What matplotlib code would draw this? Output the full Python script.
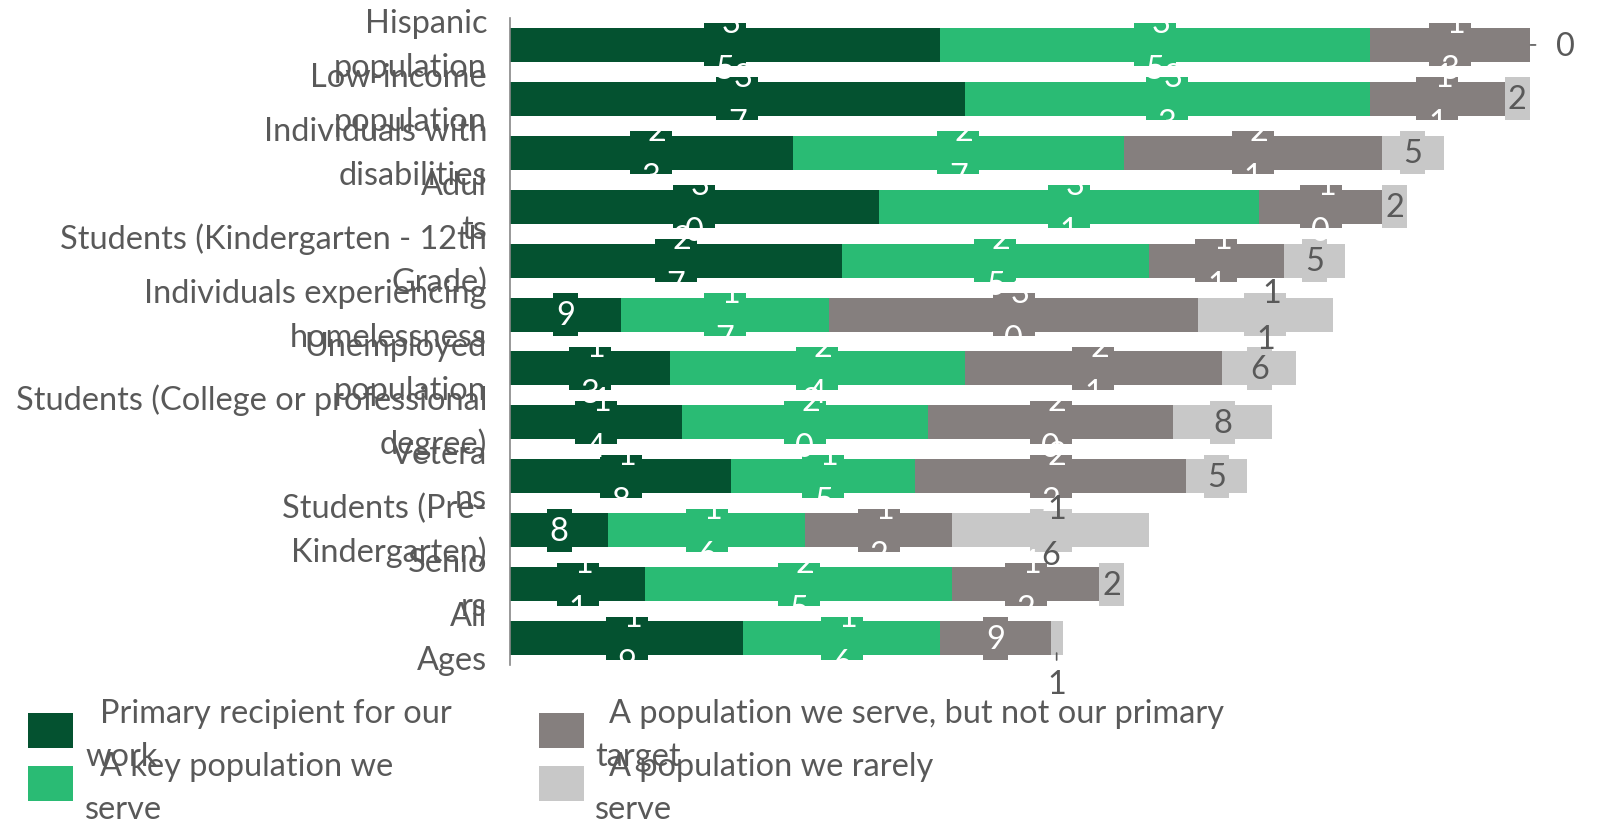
"""Stacked horizontal bars: how often each population is served."""
import matplotlib
matplotlib.use("Agg")
import matplotlib.pyplot as plt
import numpy as np
from matplotlib.patches import Rectangle
from matplotlib.transforms import ScaledTranslation

plt.rcParams["font.family"] = ["Lato", "DejaVu Sans"]

# --- data ---
category_labels = [
    "Hispanic\npopulation",
    "Low-income\npopulation",
    "Individuals with\ndisabilities",
    "Adul\nts",
    "Students (Kindergarten - 12th\nGrade)",
    "Individuals experiencing\nhomelessness",
    "Unemployed\npopulation",
    "Students (College or professional\ndegree)",
    "Vetera\nns",
    "Students (Pre-\nKindergarten)",
    "Senio\nrs",
    "All\nAges",
]
primary = [35, 37, 23, 30, 27, 9, 13, 14, 18, 8, 11, 19]
key_pop = [35, 33, 27, 31, 25, 17, 24, 20, 15, 16, 25, 16]
not_primary = [13, 11, 21, 10, 11, 30, 21, 20, 22, 12, 12, 9]
rarely = [0, 2, 5, 2, 5, 11, 6, 8, 5, 16, 2, 1]

series_names = [
    "Primary recipient for our\nwork",
    "A key population we\nserve",
    "A population we serve, but not our primary\ntarget",
    "A population we rarely\nserve",
]
series_colors = ["#045230", "#2abb74", "#857f7e", "#c8c8c8"]
label_colors = ["white", "white", "white", "#595959"]
text_gray = "#595959"

W, H = 1601, 821
FS = 23.4


def pt(p):
    # pixels -> points at dpi 100
    return p * 0.72


fig = plt.figure(figsize=(W / 100, H / 100), dpi=100)
ax = fig.add_axes([510 / W, 1 - 665 / H, 1081 / W, 647 / H])

y = np.arange(len(category_labels))
left = np.zeros(len(category_labels))
all_series = [primary, key_pop, not_primary, rarely]


def put(txt, x, yi, dx, dy, color):
    ax.annotate(txt, (x, yi), xytext=(pt(dx), pt(dy)), textcoords="offset points",
                ha="center", va="baseline", color=color, fontsize=FS, zorder=4)


for vals, color, tcol in zip(all_series, series_colors, label_colors):
    vals = np.array(vals, dtype=float)
    ax.barh(y, vals, left=left, height=0.63, color=color, zorder=2)
    for yi, (l, v) in enumerate(zip(left, vals)):
        cx = l + v / 2
        if v == 0:
            # no room: label sits right of the bar end
            put("0", l, yi, 36, -11, text_gray)
            ax.annotate("", (l, yi), xytext=(pt(6), 0), textcoords="offset points",
                        arrowprops=dict(arrowstyle="-", color=text_gray, lw=1.2,
                                        shrinkA=0, shrinkB=pt(1)))
            continue
        if v < 2:
            # too thin: label pushed below the bar
            put(str(int(v)), cx, yi, 0, -55.5, text_gray)
            ax.annotate("", (cx, yi), xytext=(0, -pt(22)), textcoords="offset points",
                        arrowprops=dict(arrowstyle="-", color=text_gray, lw=1.2,
                                        shrinkA=0, shrinkB=pt(15)))
            continue
        digits = str(int(v))
        bw = 0.42 if len(digits) > 1 else 0.25
        trans = fig.dpi_scale_trans + ScaledTranslation(cx, yi, ax.transData)
        ax.add_patch(Rectangle((-bw / 2, -0.215), bw, 0.43, transform=trans,
                               facecolor=color, edgecolor="none", zorder=3))
        if len(digits) > 1:
            put(digits[0], cx, yi, 6, 11.5, tcol)
            put(digits[1], cx, yi, 0, -34.5, tcol)
        else:
            put(digits, cx, yi, 0, -10.5, tcol)
    left += vals

ax.set_xlim(0, 88)
ax.set_ylim(len(category_labels) - 0.5, -0.5)
ax.set_xticks([])
ax.set_yticks([])

# category labels, one text per wrapped line
for i, lab in enumerate(category_labels):
    first, second = lab.split("\n")
    for line, dy in [(first, 12), (second, -32)]:
        ax.annotate(line, (0, i), xycoords=("axes fraction", "data"),
                    xytext=(pt(-23), pt(dy)), textcoords="offset points",
                    ha="right", va="baseline", color=text_gray, fontsize=FS)

for side in ["top", "right", "bottom"]:
    ax.spines[side].set_visible(False)
ax.spines["left"].set_color("#888888")
ax.spines["left"].set_linewidth(1.2)

# legend, drawn by hand in figure pixels: square x, square top, line1 x, line2 x, baselines
legend_pos = [
    (28, 713, 100, 85, 723, 766),
    (28, 766, 100, 85, 776, 819),
    (539, 713, 609, 595, 723, 766),
    (539, 766, 609, 595, 776, 819),
]
for (sx, sy, x1, x2, b1, b2), name, color in zip(legend_pos, series_names, series_colors):
    fig.add_artist(Rectangle((sx / W, 1 - (sy + 35) / H), 45 / W, 35 / H,
                             transform=fig.transFigure, facecolor=color, edgecolor="none"))
    first, second = name.split("\n")
    fig.text(x1 / W, 1 - b1 / H, first, ha="left", va="baseline",
             fontsize=FS, color=text_gray)
    fig.text(x2 / W, 1 - b2 / H, second, ha="left", va="baseline",
             fontsize=FS, color=text_gray)

fig.savefig("out.png", dpi=100)
